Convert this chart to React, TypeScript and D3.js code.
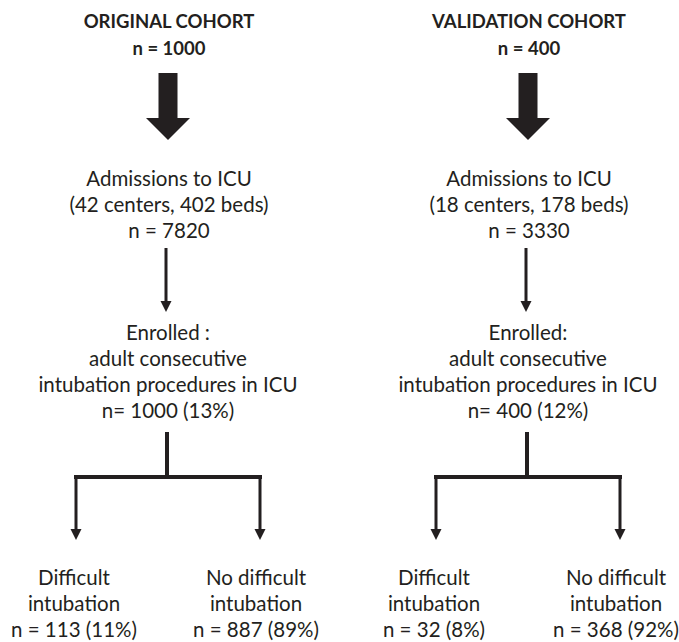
import React from 'react';
import * as d3 from 'd3';

// cohort data
const cohortTitles = ['ORIGINAL COHORT', 'VALIDATION COHORT'];
const cohortN = [1000, 400];
const icuCenters = [42, 18];
const icuBeds = [402, 178];
const admissions = [7820, 3330];
const enrolledLabels = ['Enrolled :', 'Enrolled:'];
const enrolledN = [1000, 400];
const enrolledPct = [13, 12];
const difficultN = [113, 32];
const difficultPct = [11, 8];
const noDifficultN = [887, 368];
const noDifficultPct = [89, 92];

const W = 679;
const H = 642;
const ink = '#231f20';
const font = 'Lato, "Open Sans", sans-serif';
const fs = 20.5;

const App = () => {
  const col = d3.scalePoint<number>().domain([0, 1]).range([168, 528]);
  const branch = d3.scalePoint<number>().domain([-1, 1]).range([-92, 92]);

  // vertical layout (baselines / anchor points)
  const y = {
    title: 28,
    n: 55,
    bigTop: 73,
    bigHead: 118,
    bigTip: 140,
    adm: [186, 212, 238],
    thinTop: 248,
    thinTip: 312,
    enr: [340, 366, 392, 418],
    stemTop: 432,
    bar: 477,
    leafTip: 540,
    leaf: [585, 611, 637],
  };

  const lineGen = d3.line<[number, number]>();

  const Text = ({ x, yy, t, bold }: { x: number; yy: number; t: string; bold?: boolean }) => (
    <text
      x={x}
      y={yy}
      textAnchor="middle"
      fontFamily={font}
      fontSize={bold ? 18.5 : fs}
      fontWeight={bold ? 700 : 400}
      fill={ink}
    >
      {t}
    </text>
  );

  const thinArrow = (x: number, y0: number, y1: number, key: string) => (
    <g key={key}>
      <path d={lineGen([[x, y0], [x, y1 - 9]]) || ''} stroke={ink} strokeWidth={3} fill="none" />
      <path d={lineGen([[x - 5.5, y1 - 11], [x + 5.5, y1 - 11], [x, y1]]) + 'Z'} fill={ink} />
    </g>
  );

  return (
    <svg
      width={W}
      height={H}
      style={{ position: 'absolute', left: 0, top: 0, background: '#fff' }}
    >
      {cohortTitles.map((title, i) => {
        const cx = col(i) as number;
        const big = [
          [cx - 9.5, y.bigTop],
          [cx + 9.5, y.bigTop],
          [cx + 9.5, y.bigHead],
          [cx + 22, y.bigHead],
          [cx, y.bigTip],
          [cx - 22, y.bigHead],
          [cx - 9.5, y.bigHead],
        ] as [number, number][];
        const lx = cx + (branch(-1) as number);
        const rx = cx + (branch(1) as number);
        return (
          <g key={title}>
            <Text x={cx + 1} yy={y.title} t={title} bold />
            <Text x={cx + 1} yy={y.n} t={`n = ${cohortN[i]}`} bold />
            <path d={lineGen(big) + 'Z'} fill={ink} />

            <Text x={cx + 1} yy={y.adm[0]} t="Admissions to ICU" />
            <Text x={cx + 1} yy={y.adm[1]} t={`(${icuCenters[i]} centers, ${icuBeds[i]} beds)`} />
            <Text x={cx + 1} yy={y.adm[2]} t={`n = ${admissions[i]}`} />

            {thinArrow(cx - 2, y.thinTop, y.thinTip, 'a' + i)}

            <Text x={cx} yy={y.enr[0]} t={enrolledLabels[i]} />
            <Text x={cx} yy={y.enr[1]} t="adult consecutive" />
            <Text x={cx} yy={y.enr[2]} t="intubation procedures in ICU" />
            <Text x={cx} yy={y.enr[3]} t={`n= ${enrolledN[i]} (${enrolledPct[i]}%)`} />

            <path d={lineGen([[cx - 1, y.stemTop], [cx - 1, y.bar]]) || ''} stroke={ink} strokeWidth={4} fill="none" />
            <path
              d={lineGen([[lx, y.bar], [rx, y.bar]]) || ''}
              stroke={ink}
              strokeWidth={4}
              strokeLinecap="square"
              fill="none"
            />
            {thinArrow(lx, y.bar, y.leafTip, 'l' + i)}
            {thinArrow(rx, y.bar, y.leafTip, 'r' + i)}

            <Text x={lx - 2} yy={y.leaf[0]} t="Difficult" />
            <Text x={lx - 2} yy={y.leaf[1]} t="intubation" />
            <Text x={lx - 2} yy={y.leaf[2]} t={`n = ${difficultN[i]} (${difficultPct[i]}%)`} />

            <Text x={rx - 4} yy={y.leaf[0]} t="No difficult" />
            <Text x={rx - 4} yy={y.leaf[1]} t="intubation" />
            <Text x={rx - 4} yy={y.leaf[2]} t={`n = ${noDifficultN[i]} (${noDifficultPct[i]}%)`} />
          </g>
        );
      })}
    </svg>
  );
};

export default App;
